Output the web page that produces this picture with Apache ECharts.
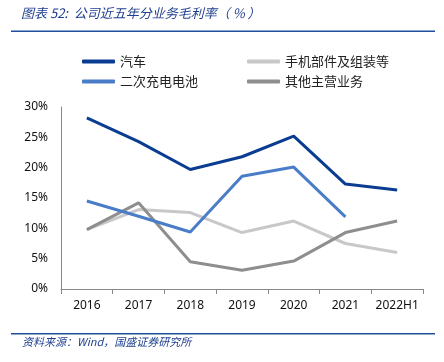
<!DOCTYPE html>
<html><head><meta charset="utf-8">
<script src="https://cdn.jsdelivr.net/npm/echarts@6/dist/echarts.min.js"></script>
<style>html,body{margin:0;padding:0;background:#fff}#c{width:444px;height:362px}</style>
</head><body><div id="c"></div>
<script>
const categories = ['2016','2017','2018','2019','2020','2021','2022H1'];
const carMargin = [28.2, 24.3, 19.7, 21.8, 25.2, 17.3, 16.3];
const phoneMargin = [9.8, 13.1, 12.6, 9.3, 11.2, 7.5, 6.0];
const batteryMargin = [14.5, 12.0, 9.4, 18.6, 20.1, 11.9, null];
const otherMargin = [9.8, 14.2, 4.5, 3.1, 4.6, 9.3, 11.2];
const yTicks = [0, 5, 10, 15, 20, 25, 30];

const chart = echarts.init(document.getElementById('c'), null, {renderer:'canvas'});
const font = 'Noto Sans';
const cjk = 'Noto Sans CJK SC';
function mk(name, data, color){
  return {name, type:'line', data, symbol:'none', smooth:false,
    lineStyle:{color, width:3}, itemStyle:{color}, connectNulls:false};
}
chart.setOption({
  animation:false,
  backgroundColor:'#fff',
  graphic:[
    {type:'text', left:21, top:7, style:{text:'图表 52:  公司近五年分业务毛利率（ % ）', fill:'#1f3f8f', font:'italic 13px "Noto Sans CJK SC"'}},
    {type:'rect', shape:{x:11, y:30.5, width:424, height:1.5}, style:{fill:'#1f4e9e'}},
    {type:'rect', shape:{x:11, y:333, width:424, height:1.5}, style:{fill:'#1f4e9e'}},
    {type:'text', left:22, top:336, style:{text:'资料来源：Wind，国盛证券研究所', fill:'#1f3f8f', font:'italic 11px "Noto Sans CJK SC"'}}
  ],
  legend:[
    {data:['汽车','二次充电电池'], orient:'vertical', left:77, top:50, itemWidth:33, itemHeight:4, itemGap:7, icon:'roundRect',
     textStyle:{fontFamily:cjk, fontSize:13, color:'#222'}},
    {data:['手机部件及组装等','其他主营业务'], orient:'vertical', left:242, top:50, itemWidth:33, itemHeight:4, itemGap:7, icon:'roundRect',
     textStyle:{fontFamily:cjk, fontSize:13, color:'#222'}}
  ],
  grid:{left:61, right:21, top:107, bottom:73, containLabel:false},
  xAxis:{type:'category', data:categories, boundaryGap:true,
    axisLine:{lineStyle:{color:'#888', width:1}},
    axisTick:{show:true, inside:false, length:5, alignWithLabel:false, lineStyle:{color:'#888'}},
    axisLabel:{fontFamily:font, fontSize:12, color:'#111', margin:11, interval:0}},
  yAxis:{type:'value', min:0, max:30, interval:5,
    axisLine:{show:true, lineStyle:{color:'#888'}},
    axisTick:{show:false}, splitLine:{show:false},
    axisLabel:{fontFamily:font, fontSize:12, color:'#111', margin:13,
      formatter: v => yTicks.includes(v) ? v + '%' : ''}},
  series:[
    mk('手机部件及组装等', phoneMargin, '#c8c8c8'),
    mk('其他主营业务', otherMargin, '#8e8e8e'),
    mk('二次充电电池', batteryMargin, '#4a7dc8'),
    mk('汽车', carMargin, '#0a3d91')
  ]
});
</script></body></html>
